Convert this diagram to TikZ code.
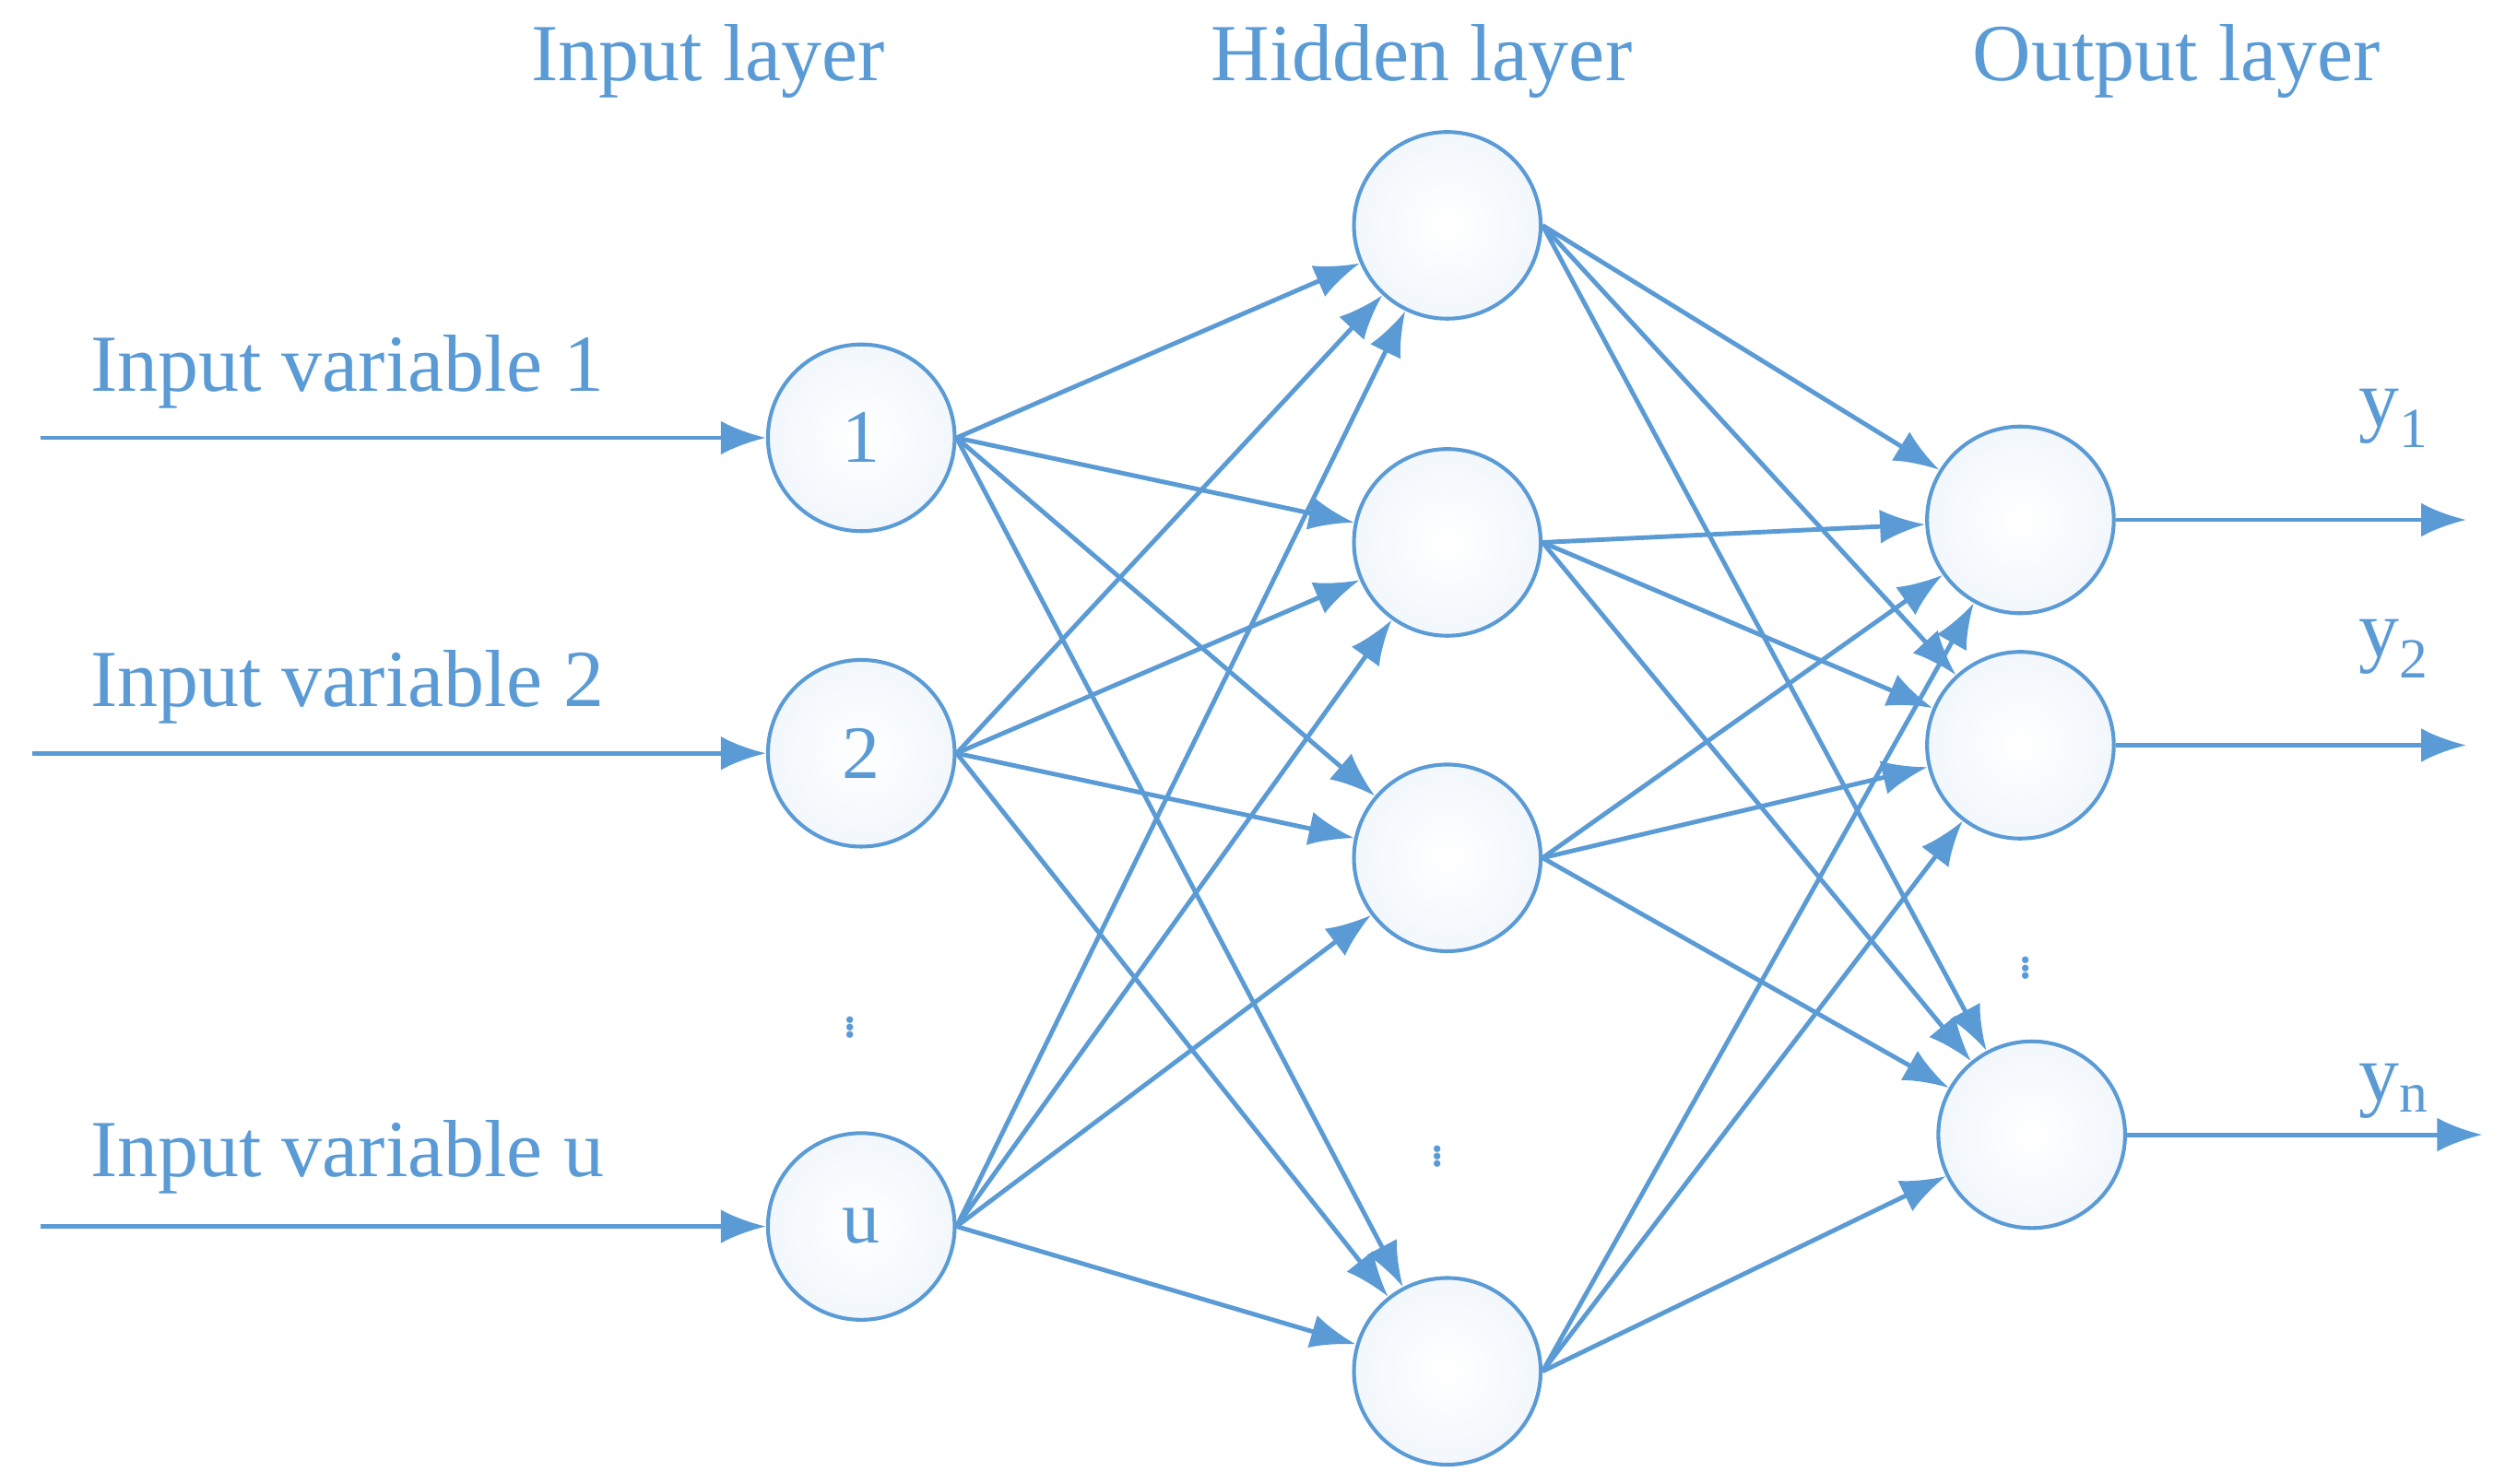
\documentclass[tikz,border=0pt]{standalone}
\usepackage{fontspec}
\setmainfont{Liberation Serif}
\usetikzlibrary{arrows.meta}
\definecolor{netblue}{RGB}{91,155,213}
\tikzset{>={Latex[length=24pt,width=18pt]}}
\tikzset{
  neuron/.style={circle,draw=netblue,line width=2pt,minimum size=34.8mm,
    inner sep=0pt,inner color=white,outer color=netblue!8,text=netblue},
  link/.style={->,draw=netblue,line width=2.4pt},
  lbl/.style={text=netblue,font=\fontsize{43}{50}\selectfont},
  dots/.style={text=netblue,inner sep=0pt,font=\fontsize{30}{36}\selectfont},
}
\begin{document}
\begin{tikzpicture}[x=0.3mm,y=-0.3mm]
\useasboundingbox (0,0) rectangle (1556,922);

% layer titles
\node [lbl] (tin) at (440,38) {Input layer};
\node [lbl] (thid) at (883,38) {Hidden layer};
\node [lbl] (tout) at (1352,38) {Output layer};

% input neurons
\node [neuron,font=\fontsize{40}{46}\selectfont] (i1) at (535,272) {1};
\node [neuron,font=\fontsize{40}{46}\selectfont] (i2) at (535,468) {2};
\node [neuron,font=\fontsize{40}{46}\selectfont] (i3) at (535,762) {u};
\node [dots] (idots) at (528,635) {$\vdots$};

% hidden neurons
\node [neuron] (h1) at (899,140) {};
\node [neuron] (h2) at (899,337) {};
\node [neuron] (h3) at (899,533) {};
\node [neuron] (h4) at (899,852) {};
\node [dots] (hdots) at (893,715) {$\vdots$};

% output neurons
\node [neuron] (o1) at (1255,323) {};
\node [neuron] (o2) at (1255,463) {};
\node [neuron] (o3) at (1262,705) {};
\node [dots] (odots) at (1258,598) {$\vdots$};

% inputs
\coordinate (s1) at (25,272);
\coordinate (s2) at (20,468);
\coordinate (s3) at (25,762);
\node [lbl,anchor=south west] (v1) at (52,258) {Input variable 1};
\node [lbl,anchor=south west] (v2) at (52,454) {Input variable 2};
\node [lbl,anchor=south west] (v3) at (52,746) {Input variable u};
\foreach \k in {1,2,3}
  \draw [link] (s\k) -- (i\k);

% outputs
\coordinate (e1) at (1532,323);
\coordinate (e2) at (1532,463);
\coordinate (e3) at (1542,705);
\node [lbl] (y1) at (1487,260) {y\textsubscript{1}};
\node [lbl] (y2) at (1487,403) {y\textsubscript{2}};
\node [lbl] (y3) at (1487,678) {y\textsubscript{n}};
\foreach \k in {1,2,3}
  \draw [link] (o\k.east) -- (e\k);

% connections
\foreach \a in {1,2,3}
  \foreach \b in {1,2,3,4}
    \draw [link] (i\a.east) -- (h\b);
\foreach \b in {1,2,3,4}
  \foreach \c in {1,2,3}
    \draw [link] (h\b.east) -- (o\c);
\end{tikzpicture}
\end{document}
